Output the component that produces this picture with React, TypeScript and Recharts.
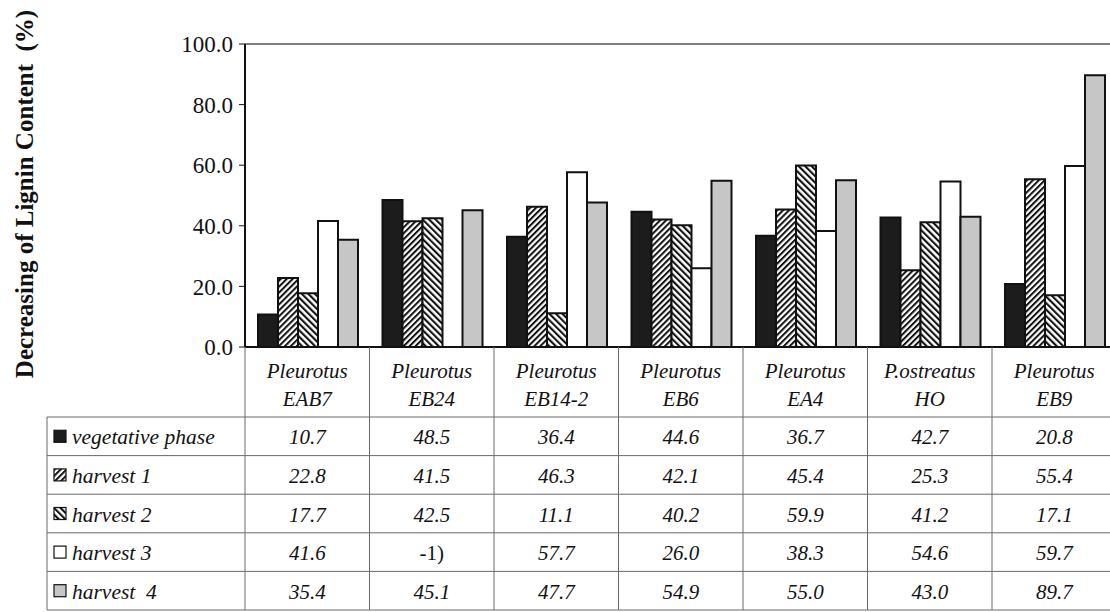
import { BarChart, Bar, XAxis, YAxis, ReferenceLine } from "recharts";

const categories = [
  "Pleurotus EAB7",
  "Pleurotus EB24",
  "Pleurotus EB14-2",
  "Pleurotus EB6",
  "Pleurotus EA4",
  "P.ostreatus HO",
  "Pleurotus EB9",
];

const vegetative = [10.7, 48.5, 36.4, 44.6, 36.7, 42.7, 20.8];
const harvest1 = [22.8, 41.5, 46.3, 42.1, 45.4, 25.3, 55.4];
const harvest2 = [17.7, 42.5, 11.1, 40.2, 59.9, 41.2, 17.1];
const harvest3 = [41.6, null, 57.7, 26.0, 38.3, 54.6, 59.7];
const harvest4 = [35.4, 45.1, 47.7, 54.9, 55.0, 43.0, 89.7];

const yTicks = [0, 20, 40, 60, 80, 100];

const series = [
  { key: "veg", name: "vegetative phase", values: vegetative, fill: "#1c1c1c" },
  { key: "h1", name: "harvest 1", values: harvest1, fill: "url(#hatchUp)" },
  { key: "h2", name: "harvest 2", values: harvest2, fill: "url(#hatchDown)" },
  { key: "h3", name: "harvest 3", values: harvest3, fill: "#ffffff" },
  { key: "h4", name: "harvest  4", values: harvest4, fill: "#c6c6c6" },
];

const data = categories.map((c, i) => {
  const row: Record<string, any> = { name: c };
  series.forEach((s) => (row[s.key] = s.values[i]));
  return row;
});

const SERIF = "'Liberation Serif', 'Times New Roman', 'DejaVu Serif', serif";
const PLOT_LEFT = 245;
const PLOT_TOP = 44;
const PLOT_BOTTOM = 347;
const CHART_W = 1120;
const CHART_H = 612;
const PLOT_RIGHT = 1116.5;
const COL_W = (PLOT_RIGHT - PLOT_LEFT) / categories.length;
const TABLE_LEFT = 47;
const HEADER_BOTTOM = 417;
const ROW_H = 38.6;
const TABLE_BOTTOM = HEADER_BOTTOM + ROW_H * series.length;
const GRID = "#6a6a6a";

function fmt(v: number | null) {
  return v == null ? "-1)" : v.toFixed(1);
}

// draws the category label plus the data-table column under each band
function TableColumn(props: any) {
  const { x, payload } = props;
  const i = categories.indexOf(payload.value);
  const left = x - COL_W / 2;
  const right = x + COL_W / 2;
  const sp = payload.value.indexOf(" ");
  const line1 = payload.value.slice(0, sp);
  const line2 = payload.value.slice(sp + 1);

  return (
    <g>
      <text x={x} y={371} textAnchor="middle" dominantBaseline="central"
        fontFamily={SERIF} fontStyle="italic" fontSize={21} fill="#111">
        {line1}
      </text>
      <text x={x} y={399} textAnchor="middle" dominantBaseline="central"
        fontFamily={SERIF} fontStyle="italic" fontSize={21} fill="#111">
        {line2}
      </text>
      {i === 0 && (
        <line x1={left} x2={left} y1={PLOT_BOTTOM} y2={TABLE_BOTTOM} stroke={GRID} />
      )}
      <line x1={right} x2={right} y1={PLOT_BOTTOM} y2={TABLE_BOTTOM} stroke={GRID} />
      {series.map((s, r) => {
        const top = HEADER_BOTTOM + r * ROW_H;
        const v = s.values[i];
        return (
          <g key={s.key}>
            <line x1={left} x2={right} y1={top} y2={top} stroke={GRID} />
            <text x={x} y={top + ROW_H / 2 + 1} textAnchor="middle" dominantBaseline="central"
              fontFamily={SERIF} fontStyle={v == null ? "normal" : "italic"} fontSize={21} fill="#111">
              {fmt(v)}
            </text>
          </g>
        );
      })}
      <line x1={left} x2={right} y1={TABLE_BOTTOM} y2={TABLE_BOTTOM} stroke={GRID} />
      {i === 0 && (
        <g>
          <line x1={TABLE_LEFT} x2={TABLE_LEFT} y1={HEADER_BOTTOM} y2={TABLE_BOTTOM} stroke={GRID} />
          <line x1={TABLE_LEFT} x2={left} y1={TABLE_BOTTOM} y2={TABLE_BOTTOM} stroke={GRID} />
          {series.map((s, r) => {
            const top = HEADER_BOTTOM + r * ROW_H;
            const cy = top + ROW_H / 2;
            return (
              <g key={"lg" + s.key}>
                <line x1={TABLE_LEFT} x2={left} y1={top} y2={top} stroke={GRID} />
                <rect x={54} y={cy - 6} width={12} height={12} fill={s.fill} stroke="#111" strokeWidth={1.2} />
                <text x={72} y={cy + 1} dominantBaseline="central" fontFamily={SERIF}
                  fontStyle="italic" fontSize={21.5} fill="#111" style={{ whiteSpace: "pre" }}>
                  {s.name}
                </text>
              </g>
            );
          })}
        </g>
      )}
    </g>
  );
}

function AxisTitle() {
  return (
    <text x={33} y={194} transform="rotate(-90, 33, 194)" textAnchor="middle"
      fontFamily={SERIF} fontWeight="bold" fontSize={25} fill="#111" style={{ whiteSpace: "pre" }}>
      Decreasing of Lignin Content  (%)
    </text>
  );
}

export default function App() {
  return (
    <div style={{ position: "absolute", left: 0, top: 0, width: 1110, height: 612, overflow: "hidden", background: "#fff" }}>
      <BarChart
        width={CHART_W}
        height={CHART_H}
        data={data}
        margin={{ top: PLOT_TOP, right: CHART_W - PLOT_RIGHT, left: PLOT_LEFT - 60, bottom: 0 }}
        barCategoryGap={13}
        barGap={0}
      >
        <defs>
          <pattern id="hatchUp" patternUnits="userSpaceOnUse" width={4.2} height={4.2} patternTransform="rotate(45)">
            <rect width={4.2} height={4.2} fill="#fff" />
            <line x1={1} y1={0} x2={1} y2={4.2} stroke="#111" strokeWidth={2} />
          </pattern>
          <pattern id="hatchDown" patternUnits="userSpaceOnUse" width={4.6} height={4.6} patternTransform="rotate(-45)">
            <rect width={4.6} height={4.6} fill="#fff" />
            <line x1={1} y1={0} x2={1} y2={4.6} stroke="#111" strokeWidth={2.2} />
          </pattern>
        </defs>
        <XAxis
          dataKey="name"
          height={CHART_H - PLOT_BOTTOM}
          tickLine={false}
          axisLine={{ stroke: "#111", strokeWidth: 2 }}
          tick={(p: any) => <TableColumn {...p} />}
          interval={0}
        />
        <YAxis
          width={60}
          domain={[0, 100]}
          ticks={yTicks}
          tickFormatter={(v: number) => v.toFixed(1)}
          tickSize={6}
          tickMargin={6}
          tickLine={{ stroke: "#111" }}
          axisLine={{ stroke: "#111", strokeWidth: 2 }}
          tick={{ fontFamily: SERIF, fontSize: 23, fill: "#111" }}
          label={{ content: () => <AxisTitle /> }}
        />
        <ReferenceLine y={100} stroke="#555" strokeWidth={1.5} />
        {series.map((s) => (
          <Bar
            key={s.key}
            dataKey={s.key}
            name={s.name}
            fill={s.fill}
            stroke="#111"
            strokeWidth={2}
            isAnimationActive={false}
          />
        ))}
      </BarChart>
    </div>
  );
}
